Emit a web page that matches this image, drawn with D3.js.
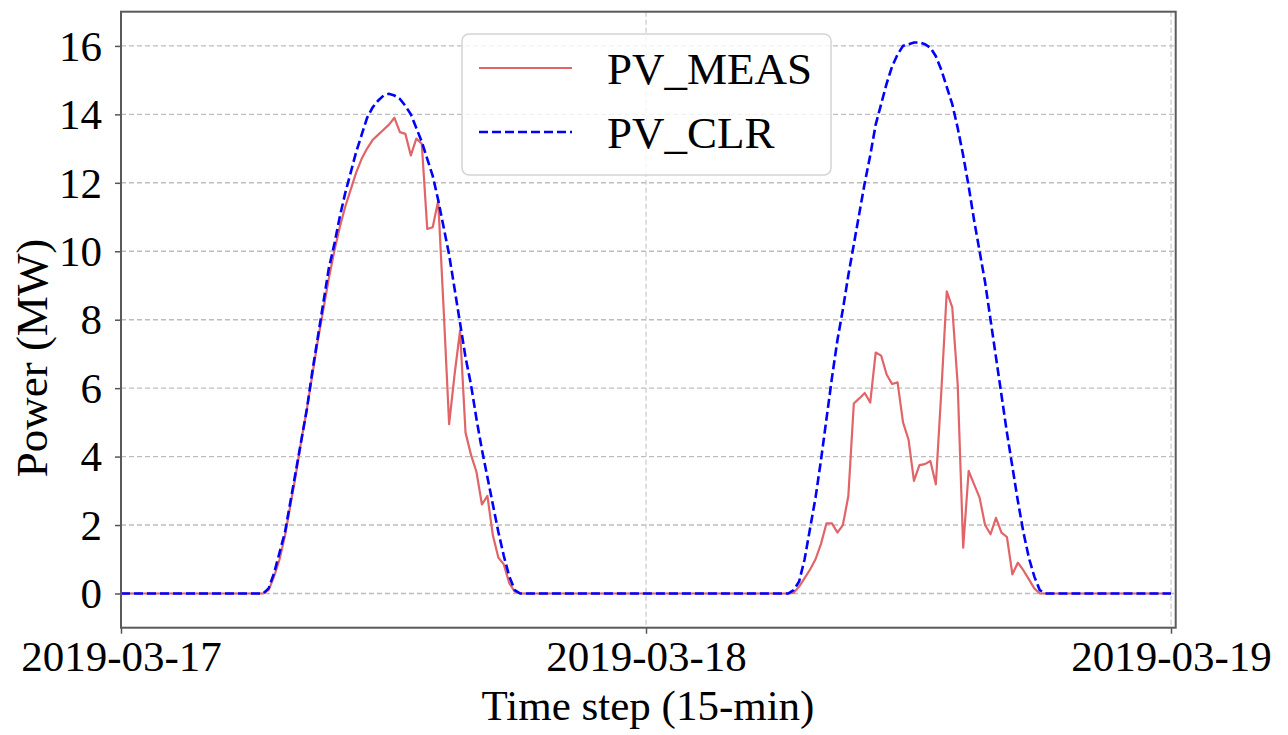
<!DOCTYPE html>
<html>
<head>
<meta charset="utf-8">
<script src="https://cdn.jsdelivr.net/npm/d3@7"></script>
<style>
    body { margin: 0; background: white; }
    text { font-family: "Liberation Serif", "Times New Roman", serif; fill: black; }
</style>
</head>
<body>
<div id="chart"></div>
<script>
// Measured PV power (MW), daylight hours only, 15-min steps; night values are 0
const measDay1Start = 26;   // step index on 2019-03-17
const measDay1 = [0, 0.1, 0.5, 1.0, 1.7, 2.6, 3.5, 4.5, 5.4, 6.4, 7.4, 8.3, 9.2, 10.0, 10.7, 11.3,
    11.8, 12.3, 12.7, 13.0, 13.25, 13.4, 13.55, 13.7, 13.9, 13.48, 13.43, 12.8, 13.29, 13.14, 10.65,
    10.7, 11.48, 8.3, 4.95, 6.4, 7.68, 4.7, 4.05, 3.55, 2.6, 2.85, 1.7, 1.05, 0.85, 0.3, 0.05, 0];
const measDay2Start = 26;   // step index on 2019-03-18
const measDay2 = [0, 0.02, 0.2, 0.45, 0.7, 1.0, 1.45, 2.05, 2.05, 1.78, 2.0, 2.85, 5.55, 5.7, 5.86,
    5.58, 7.04, 6.95, 6.4, 6.12, 6.17, 5.0, 4.5, 3.29, 3.75, 3.78, 3.87, 3.19, 5.9, 8.83, 8.36, 6.1,
    1.34, 3.58, 3.19, 2.8, 2.0, 1.73, 2.21, 1.78, 1.65, 0.56, 0.9, 0.68, 0.42, 0.15, 0];

// Clear-sky PV power (MW)
const clrDay1Start = 26;
const clrDay1 = [0, 0.15, 0.6, 1.2, 1.8, 2.7, 3.6, 4.5, 5.4, 6.5, 7.5, 8.5, 9.5, 10.2, 11.0, 11.7,
    12.3, 12.9, 13.4, 13.9, 14.2, 14.4, 14.55, 14.6, 14.55, 14.45, 14.25, 14.0, 13.6, 13.2, 12.7,
    12.2, 11.5, 10.7, 9.9, 8.9, 7.9, 6.9, 6.1, 5.1, 4.2, 3.4, 2.6, 1.8, 1.1, 0.5, 0.1, 0];
const clrDay2Start = 25;
const clrDay2 = [0, 0, 0.1, 0.35, 1.0, 1.9, 2.8, 3.9, 5.1, 6.3, 7.4, 8.3, 9.3, 10.2, 11.1, 12.0,
    12.8, 13.7, 14.3, 14.9, 15.4, 15.75, 16.0, 16.05, 16.1, 16.1, 16.05, 15.95, 15.7, 15.3, 14.8,
    14.3, 13.6, 12.8, 11.9, 10.9, 10.0, 9.1, 8.0, 6.9, 5.8, 4.7, 3.7, 2.7, 1.8, 1.05, 0.5, 0.1, 0];

const xTickLabels = ["2019-03-17", "2019-03-18", "2019-03-19"];
const yTicks = [0, 2, 4, 6, 8, 10, 12, 14, 16];
const seriesNames = ["PV_MEAS", "PV_CLR"];

// Build full series (two days + final point), night steps stay at 0
const stepsPerDay = 96;
const totalSteps = 2 * stepsPerDay + 1;
const t0 = new Date(2019, 2, 17, 0, 0);
const stepMs = 15 * 60 * 1000;

function buildSeries(parts) {
    let vals = new Array(totalSteps).fill(0);
    parts.forEach(p => {
        p.values.forEach((v, i) => { vals[p.offset + p.start + i] = v; });
    });
    return vals.map((v, i) => ({ date: new Date(t0.getTime() + i * stepMs), value: v }));
}

const meas = buildSeries([
    { offset: 0, start: measDay1Start, values: measDay1 },
    { offset: stepsPerDay, start: measDay2Start, values: measDay2 }
]);
const clr = buildSeries([
    { offset: 0, start: clrDay1Start, values: clrDay1 },
    { offset: stepsPerDay, start: clrDay2Start, values: clrDay2 }
]);

// Dimensions
let width = 1288,
    height = 735;

let margin = {
    top: 11.7,
    bottom: 107.3,
    left: 121,
    right: 112.3
};

let svg = d3.select('#chart')
    .append('svg')
    .attr('width', width)
    .attr('height', height);

// Scales
let xScale = d3.scaleTime()
    .domain([t0, new Date(t0.getTime() + 192.86 * stepMs)])
    .range([margin.left, width - margin.right]);

let yScale = d3.scaleLinear()
    .domain([-1, 17])
    .range([height - margin.bottom, margin.top]);

const xTickDates = xTickLabels.map(s => d3.timeParse("%Y-%m-%d")(s));

// Grid lines
svg.append('g')
    .selectAll('line')
    .data(yTicks)
    .enter().append('line')
    .attr('x1', margin.left)
    .attr('x2', width - margin.right)
    .attr('y1', d => yScale(d))
    .attr('y2', d => yScale(d))
    .attr('stroke', '#bdbdbd')
    .attr('stroke-width', 1.4)
    .attr('stroke-dasharray', '5,3');

svg.append('g')
    .selectAll('line')
    .data(xTickDates)
    .enter().append('line')
    .attr('x1', d => xScale(d))
    .attr('x2', d => xScale(d))
    .attr('y1', margin.top)
    .attr('y2', height - margin.bottom)
    .attr('stroke', '#c8c8c8')
    .attr('stroke-width', 1.2)
    .attr('stroke-dasharray', '5,3');

// Lines
let line = d3.line()
    .x(d => xScale(d.date))
    .y(d => yScale(d.value));

svg.append('path')
    .datum(meas)
    .attr('d', line)
    .attr('fill', 'none')
    .attr('stroke', '#e06468')
    .attr('stroke-width', 2.2)
    .attr('stroke-linejoin', 'round');

svg.append('path')
    .datum(clr)
    .attr('d', line)
    .attr('fill', 'none')
    .attr('stroke', '#0000ff')
    .attr('stroke-width', 2.6)
    .attr('stroke-dasharray', '9,4');

// Axes
let xAxis = svg.append('g')
    .attr('transform', `translate(0,${height - margin.bottom})`)
    .call(d3.axisBottom(xScale)
        .tickValues(xTickDates)
        .tickFormat(d3.timeFormat("%Y-%m-%d"))
        .tickSize(6)
        .tickSizeOuter(0)
        .tickPadding(7));

let yAxis = svg.append('g')
    .attr('transform', `translate(${margin.left},0)`)
    .call(d3.axisLeft(yScale)
        .tickValues(yTicks)
        .tickSize(6)
        .tickSizeOuter(0)
        .tickPadding(13));

[xAxis, yAxis].forEach(ax => {
    ax.select('.domain').remove();
    ax.selectAll('.tick line').attr('stroke', '#555').attr('stroke-width', 1.5);
    ax.selectAll('.tick text')
        .style('font-family', '"Liberation Serif", "Times New Roman", serif')
        .style('font-size', '43px')
        .attr('fill', 'black');
});
yAxis.selectAll('.tick text').attr('dy', '0.33em');

// Spines
svg.append('rect')
    .attr('x', margin.left)
    .attr('y', margin.top)
    .attr('width', width - margin.left - margin.right)
    .attr('height', height - margin.top - margin.bottom)
    .attr('fill', 'none')
    .attr('stroke', '#5a5a5a')
    .attr('stroke-width', 2);

// Axis labels
svg.append('text')
    .attr('x', 648)
    .attr('y', 720)
    .text('Time step (15-min)')
    .style('font-size', '43px')
    .style('text-anchor', 'middle');

svg.append('text')
    .attr('x', -358)
    .attr('y', 47)
    .attr('transform', 'rotate(-90)')
    .text('Power (MW)')
    .style('font-size', '45px')
    .style('text-anchor', 'middle');

// Legend
svg.append('rect')
    .attr('x', 462)
    .attr('y', 34)
    .attr('width', 369)
    .attr('height', 141)
    .attr('rx', 7)
    .attr('fill', 'white')
    .attr('fill-opacity', 0.8)
    .attr('stroke', '#d4d4d4')
    .attr('stroke-width', 1.5);

const legend = svg.selectAll('.legend')
    .data(seriesNames)
    .enter().append('g')
    .attr('class', 'legend')
    .attr('transform', (d, i) => `translate(0,${68 + i * 64})`);

legend.append('line')
    .attr('x1', 479)
    .attr('x2', 572)
    .attr('y1', 0)
    .attr('y2', 0)
    .attr('stroke', (d, i) => i === 0 ? '#e06468' : '#0000ff')
    .attr('stroke-width', (d, i) => i === 0 ? 2.2 : 2.6)
    .attr('stroke-dasharray', (d, i) => i === 0 ? null : '9,4');

legend.append('text')
    .attr('x', 607)
    .attr('y', 16)
    .text(d => d)
    .style('font-size', '45px');
</script>
</body>
</html>
